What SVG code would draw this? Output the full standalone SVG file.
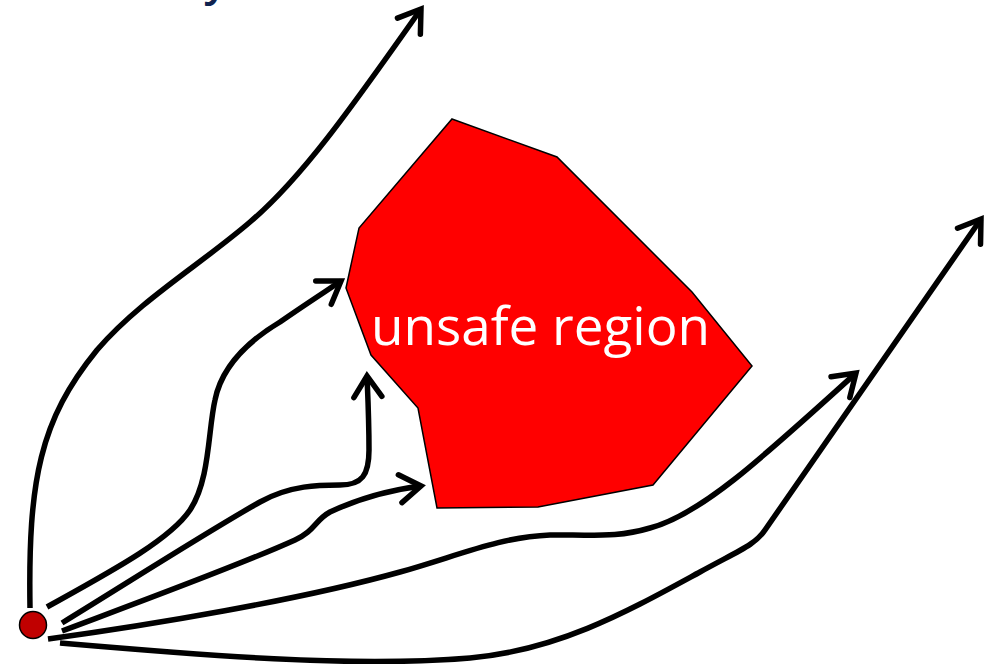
<svg xmlns="http://www.w3.org/2000/svg" width="990" height="664" viewBox="0 0 990 664">
<style>
.traj{fill:none;stroke:#000;stroke-width:5.5;stroke-linecap:butt;stroke-linejoin:round}
.head{fill:none;stroke:#000;stroke-width:5.5;stroke-linecap:round;stroke-linejoin:miter}
.lbl{font-family:"Open Sans","Liberation Sans",sans-serif;font-size:53px;fill:#fff}
</style>
<defs>
<marker id="arr" markerUnits="userSpaceOnUse" viewBox="-30 -20 40 40" markerWidth="40" markerHeight="40" refX="0" refY="0" orient="auto" overflow="visible">
<path class="head" d="M-21,-14 L0,0 L-21,14"/>
</marker>
</defs>
<rect width="990" height="664" fill="#fff"/>
<text x="204" y="-4" font-family="'Open Sans','Liberation Sans',sans-serif" font-size="44" font-weight="600" fill="#0f2350">y</text>
<g id="unsafe-region">
<polygon points="452,119 557,157 692,292 752,366 653,485 538,507 437,508 418,408 371,355 346,288 359,228" fill="#ff0000" stroke="#000" stroke-width="1.5"/>
<text class="lbl" x="371" y="345">unsafe region</text>
</g>
<g id="connectors">
<path class="traj" marker-end="url(#arr)" d="M30,608 C28,480 40,420 97,350 C140,300 200,265 250,222 C300,180 350,110 421,9"/>
<path class="traj" marker-end="url(#arr)" d="M47,607 C110,572 170,540 190,510 C210,480 208,430 215,400 C222,365 250,340 280,322 C300,308 320,295 341,281"/>
<path class="traj" marker-end="url(#arr)" d="M62,623 C140,575 210,530 260,502 C290,485 320,485 340,485 C362,485 369,475 369,450 C369,420 368,400 367,376"/>
<path class="traj" marker-end="url(#arr)" d="M62,631 C150,598 240,565 295,540 C315,531 315,520 330,512 C360,498 390,490 421,486"/>
<path class="traj" marker-end="url(#arr)" d="M48,639 C150,625 300,600 400,572 C460,555 500,537 550,535 C600,535 620,537 650,528 C700,515 760,460 856,373"/>
<path class="traj" marker-end="url(#arr)" d="M60,643 C200,655 350,668 470,658 C560,650 630,610 700,572 C740,550 755,545 765,530 L981,219"/>
</g>
<g id="start">
<circle cx="33" cy="625" r="13.5" fill="#c00000" stroke="#000" stroke-width="1.5"/>
</g>
</svg>
